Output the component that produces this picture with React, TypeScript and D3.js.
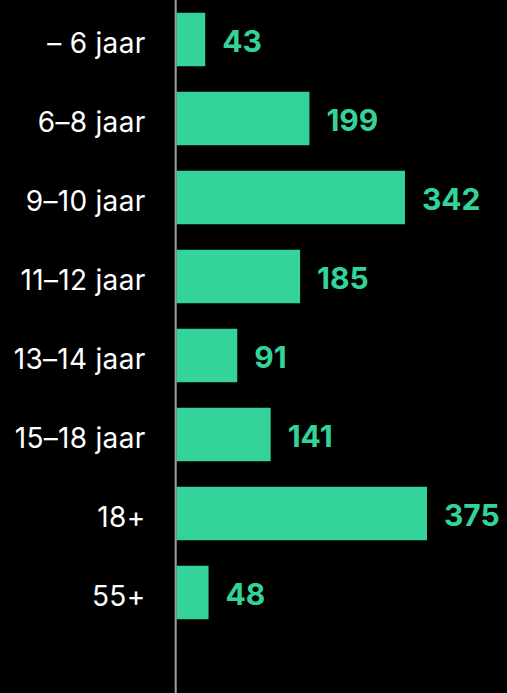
import React from "react";
import * as d3 from "d3";

const categories = ["– 6 jaar", "6–8 jaar", "9–10 jaar", "11–12 jaar", "13–14 jaar", "15–18 jaar", "18+", "55+"];
const values = [43, 199, 342, 185, 91, 141, 375, 48];

const W = 507;
const H = 693;
const X0 = 176.5;
const GREEN = "#34D399";

export default function App() {
  const y = d3
    .scaleBand<string>()
    .domain(categories)
    .range([0, 632])
    .paddingInner(0.323)
    .paddingOuter(0.1615);
  const x = d3.scaleLinear().domain([0, 375]).range([X0, X0 + 250.5]);

  return (
    <svg
      width={W}
      height={H}
      style={{ position: "absolute", left: 0, top: 0, display: "block" }}
    >
      <rect x={0} y={0} width={W} height={H} fill="#000" />
      {categories.map((c, i) => {
        const yy = y(c)!;
        const bw = y.bandwidth();
        const cy = yy + bw / 2;
        return (
          <g key={c}>
            <rect x={x(0)} y={yy} width={x(values[i]) - x(0)} height={bw} fill={GREEN} />
            <text
              x={145.5}
              y={cy + 13.5}
              textAnchor="end"
              fill="#fff"
              fontFamily="Inter, sans-serif"
              fontSize={28}
              letterSpacing={0.3}
            >
              {c}
            </text>
            <text
              x={x(values[i]) + 17}
              y={cy + 12.5}
              textAnchor="start"
              fill={GREEN}
              fontFamily="Inter, sans-serif"
              fontWeight="bold"
              fontSize={30}
            >
              {values[i]}
            </text>
          </g>
        );
      })}
      <line x1={175.7} x2={175.7} y1={0} y2={H} stroke="#a0a0a0" strokeWidth={2} />
    </svg>
  );
}
